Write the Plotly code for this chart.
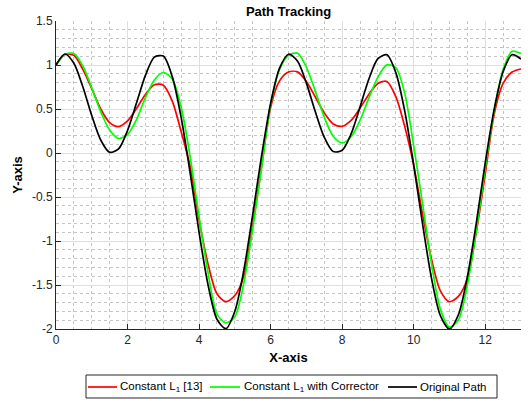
import plotly.graph_objects as go

x_values = [0.0, 0.25, 0.5, 0.75, 1.0, 1.25, 1.5, 1.75, 2.0, 2.25, 2.5, 2.75, 3.0, 3.25, 3.5, 3.75,
            4.0, 4.25, 4.5, 4.75, 5.0, 5.25, 5.5, 5.75, 6.0, 6.25, 6.5, 6.75, 7.0, 7.25, 7.5, 7.75,
            8.0, 8.25, 8.5, 8.75, 9.0, 9.25, 9.5, 9.75, 10.0, 10.25, 10.5, 10.75, 11.0, 11.25, 11.5,
            11.75, 12.0, 12.25, 12.5, 12.75, 13.0]

constant_l1 = [1.00, 1.12, 1.11, 0.95, 0.73, 0.50, 0.345, 0.30, 0.365, 0.505, 0.665, 0.775, 0.77,
               0.59, 0.24, -0.15, -0.76, -1.26, -1.60, -1.69, -1.62, -1.40, -0.82, -0.15, 0.52,
               0.82, 0.92, 0.922, 0.813, 0.636, 0.455, 0.33, 0.303, 0.37, 0.51, 0.669, 0.789,
               0.813, 0.64, 0.30, -0.14, -0.70, -1.21, -1.57, -1.69, -1.63, -1.43, -0.90, -0.24,
               0.44, 0.79, 0.92, 0.955]

constant_l1_corrector = [1.00, 1.12, 1.13, 0.99, 0.74, 0.47, 0.26, 0.165, 0.21, 0.38, 0.63, 0.83,
                         0.915, 0.84, 0.52, -0.04, -0.72, -1.36, -1.83, -1.93, -1.86, -1.48, -0.86,
                         -0.16, 0.55, 0.95, 1.11, 1.135, 0.977, 0.70, 0.408, 0.19, 0.115, 0.185,
                         0.372, 0.629, 0.863, 1.002, 0.97, 0.676, 0.08, -0.58, -1.26, -1.78, -1.978,
                         -1.897, -1.502, -0.885, -0.171, 0.481, 0.948, 1.157, 1.13]

original_path = [1.0, 1.125, 1.020, 0.752, 0.425, 0.148, 0.0075, 0.0475, 0.2557, 0.567, 0.882,
                 1.090, 1.101, 0.868, 0.403, -0.225, -0.902, -1.497, -1.889, -1.9965, -1.798,
                 -1.334, -0.701, -0.025, 0.5645, 0.9646, 1.1225, 1.045, 0.794, 0.468, 0.178, 0.016,
                 0.0317, 0.217, 0.523, 0.844, 1.072, 1.1165, 0.9135, 0.476, -0.136, -0.812, -1.427,
                 -1.852, -2.000, -1.838, -1.408, -0.796, -0.112, 0.4955, 0.925, 1.116, 1.067]

series_names = ["Constant L<sub>1</sub> [13]", "Constant L<sub>1</sub> with Corrector", "Original Path"]
series_colors = ["#ff0000", "#00ff00", "#000000"]

x_tick_vals = [0, 2, 4, 6, 8, 10, 12]
x_tick_text = ["0", "2", "4", "6", "8", "10", "12"]
y_tick_vals = [-2, -1.5, -1, -0.5, 0, 0.5, 1, 1.5]
y_tick_text = ["-2", "-1.5", "-1", "-0.5", "0", "0.5", "1", "1.5"]

W, H = 528, 403
ML, MR, MT, MB = 56, 7, 21, 74
PW, PH = W - ML - MR, H - MT - MB


def px_to_paper_x(px):
    return (px - ML) / PW


def px_to_paper_y(py):
    return (H - MB - py) / PH


fig = go.Figure()
for name, ys, col in zip(series_names, [constant_l1, constant_l1_corrector, original_path], series_colors):
    fig.add_trace(go.Scatter(x=x_values, y=ys, mode="lines", name=name, showlegend=False,
                             line=dict(color=col, width=1.7, shape="spline", smoothing=0.8)))

font_family = "Liberation Sans, Arial, Helvetica, sans-serif"
axis_common = dict(
    showline=True, linecolor="#262626", linewidth=1,
    ticks="inside", ticklen=5, tickcolor="#262626",
    showgrid=True, gridcolor="#dedede", gridwidth=1,
    zeroline=False, automargin=False,
    tickfont=dict(family=font_family, size=12, color="#262626"),
)

# legend box drawn as layout decoration (positions in pixels of the 528x403 canvas)
legend_box = (86, 375, 497, 398)
legend_items = [(88, 117, 118), (210, 240, 242), (388, 417, 418)]
legend_y = 387

shapes = [dict(type="rect", xref="paper", yref="paper",
               x0=px_to_paper_x(legend_box[0]), x1=px_to_paper_x(legend_box[2]),
               y0=px_to_paper_y(legend_box[3]), y1=px_to_paper_y(legend_box[1]),
               line=dict(color="#262626", width=1), fillcolor="white", layer="above")]
annotations = []
for (lx0, lx1, tx), name, col in zip(legend_items, series_names, series_colors):
    shapes.append(dict(type="line", xref="paper", yref="paper",
                       x0=px_to_paper_x(lx0), x1=px_to_paper_x(lx1),
                       y0=px_to_paper_y(legend_y), y1=px_to_paper_y(legend_y),
                       line=dict(color=col, width=1.7), layer="above"))
    annotations.append(dict(text=name, xref="paper", yref="paper", showarrow=False,
                            x=px_to_paper_x(tx), y=px_to_paper_y(legend_y - 0.5),
                            xanchor="left", yanchor="middle",
                            font=dict(family=font_family, size=11.5, color="black")))

fig.update_layout(
    width=W, height=H,
    margin=dict(l=ML, r=MR, t=MT, b=MB, autoexpand=False),
    paper_bgcolor="white", plot_bgcolor="white",
    font=dict(family=font_family, size=12, color="#262626"),
    title=dict(text="<b>Path Tracking</b>", x=0.5, xref="paper", y=1 - 11 / H, yref="container",
               xanchor="center", yanchor="middle", font=dict(size=13, color="black")),
    showlegend=False,
    shapes=shapes,
    annotations=annotations,
)

fig.update_xaxes(range=[0, 13], tickvals=x_tick_vals, ticktext=x_tick_text,
                 title=dict(text="<b>X-axis</b>", font=dict(size=13, color="black"), standoff=6),
                 minor=dict(dtick=0.5, showgrid=True, griddash="dot", gridcolor="#c4c4c4", ticks=""),
                 **axis_common)
fig.update_yaxes(range=[-2, 1.5], tickvals=y_tick_vals, ticktext=y_tick_text,
                 title=dict(text="<b>Y-axis</b>", font=dict(size=13, color="black"), standoff=6),
                 minor=dict(dtick=0.1, showgrid=True, griddash="dot", gridcolor="#c4c4c4", ticks=""),
                 **axis_common)

fig.write_html("out.html", config={"displayModeBar": False},
               post_script="document.body.style.margin='0';document.body.style.overflow='hidden';")
